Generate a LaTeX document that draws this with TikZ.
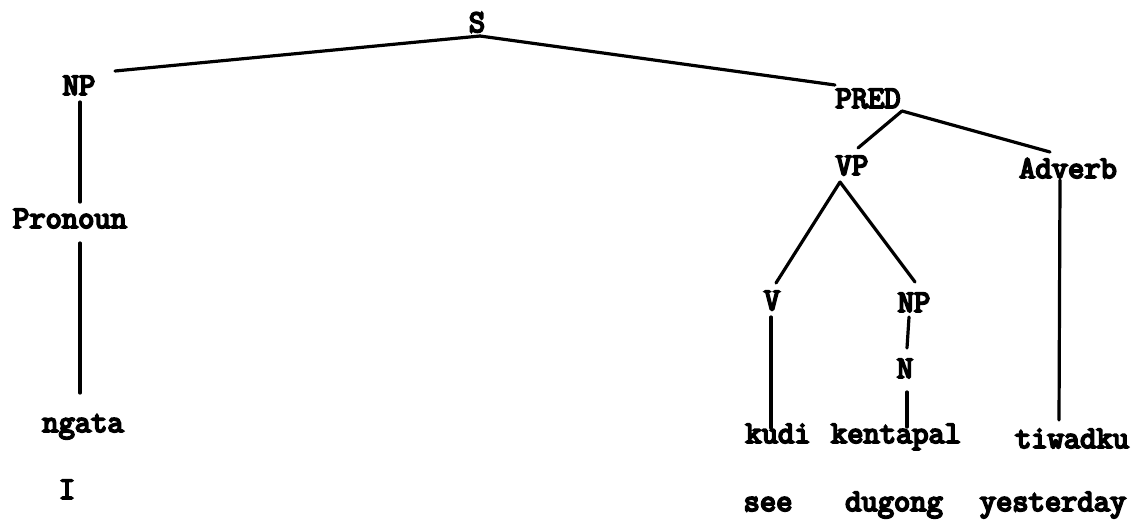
\documentclass[tikz,border=0pt]{standalone}
\usepackage{fontspec}
\newfontfamily\twfont{Latin Modern Mono}[FakeBold=6]
\begin{document}
\begin{tikzpicture}[x=1pt,y=-1pt,
  lbl/.style={anchor=base,inner sep=0pt,font=\twfont\fontsize{31.6}{36}\selectfont},
  br/.style={line width=3.2pt,line cap=round}]
\useasboundingbox[fill=white] (0,0) rectangle (1142,523);
\node[lbl] (S) at (477,32) {S};
\node[lbl] (NPa) at (79,95) {NP};
\node[lbl] (Pron) at (70,228) {Pronoun};
\node[lbl] (ngata) at (83,432) {ngata};
\node[lbl] (I) at (67,499) {I};
\node[lbl] (PRED) at (868,108) {PRED};
\node[lbl] (VP) at (852,175) {VP};
\node[lbl] (Adv) at (1068,178) {Adverb};
\node[lbl] (V) at (772,310) {V};
\node[lbl] (NPb) at (914,312) {NP};
\node[lbl] (N) at (905,378) {N};
\node[lbl] (kudi) at (778,443) {kudi};
\node[lbl] (kent) at (896,443) {kentapal};
\node[lbl] (tiw) at (1072,448) {tiwadku};
\node[lbl] (see) at (768,511) {see};
\node[lbl] (dug) at (894,511) {dugong};
\node[lbl] (yest) at (1053,511) {yesterday};
\draw[br] ([shift={(3,4)}]S.base) -- ([shift={(36,-24)}]NPa.base);
\draw[br] ([shift={(3,4)}]S.base) -- ([shift={(-33,-23)}]PRED.base);
\draw[br] ([shift={(1,7)}]NPa.base) -- ([shift={(10,-26)}]Pron.base);
\draw[br] ([shift={(10,15)}]Pron.base) -- ([shift={(-3,-39)}]ngata.base);
\draw[br] ([shift={(34,3)}]PRED.base) -- ([shift={(6,-27)}]VP.base);
\draw[br] ([shift={(34,3)}]PRED.base) -- ([shift={(-18,-26)}]Adv.base);
\draw[br] ([shift={(-12,7)}]VP.base) -- ([shift={(4,-27)}]V.base);
\draw[br] ([shift={(-12,7)}]VP.base) -- ([shift={(1,-30)}]NPb.base);
\draw[br] ([shift={(-1,7)}]V.base) -- ([shift={(-7,-15)}]kudi.base);
\draw[br] ([shift={(-5,5)}]NPb.base) -- ([shift={(2,-30)}]N.base);
\draw[br] ([shift={(2,14)}]N.base) -- ([shift={(11,-16)}]kent.base);
\draw[br] ([shift={(-8,2)}]Adv.base) -- ([shift={(-13,-28)}]tiw.base);
\end{tikzpicture}
\end{document}
